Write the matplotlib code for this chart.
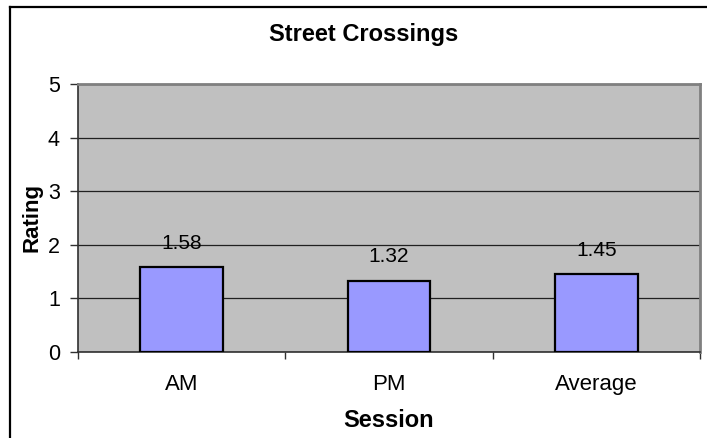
import matplotlib
matplotlib.use("Agg")
import matplotlib.pyplot as plt
from matplotlib.lines import Line2D
import numpy as np

plt.rcParams['font.family'] = ['Liberation Sans', 'DejaVu Sans']

# Data
sessions = ["AM", "PM", "Average"]
ratings = [1.58, 1.32, 1.45]
y_ticks = [0, 1, 2, 3, 4, 5]

W, H = 707, 438
fig = plt.figure(figsize=(W / 100, H / 100), dpi=100)
fig.patch.set_facecolor("white")

# plot area in pixel coordinates
left, right, top, bottom = 78, 700, 84, 352
ax = fig.add_axes([left / W, 1 - bottom / H, (right - left) / W, (bottom - top) / H])
ax.set_facecolor("#C0C0C0")

x = np.arange(len(sessions))
ax.bar(x, ratings, width=0.4, color="#9999FF", edgecolor="black", linewidth=1.6, zorder=3)

for xi, v in zip(x, ratings):
    ax.annotate(f"{v:.2f}", (xi, v), xytext=(0, 13.5), textcoords="offset points",
                ha="center", va="baseline", fontsize=15, zorder=4)

ax.set_xlim(-0.5, len(sessions) - 0.5)
ax.set_ylim(0, 5)
ax.set_yticks(y_ticks)
ax.grid(axis="y", color="#202020", linewidth=0.9, zorder=1)
ax.set_axisbelow(True)

# category labels centred, tick marks at category boundaries
ax.set_xticks(x)
ax.set_xticklabels(sessions, fontsize=16)
ax.tick_params(axis="x", which="major", length=0, pad=16)
ax.set_xticks(np.arange(len(sessions) + 1) - 0.5, minor=True)
ax.tick_params(axis="x", which="minor", length=5, width=1.0, color="#303030")
ax.tick_params(axis="y", which="major", length=6, width=1.0, color="#303030",
               labelsize=15.5, pad=7)

for side in ("top", "right"):
    ax.spines[side].set_color("#808080")
    ax.spines[side].set_linewidth(2.0)
for side in ("left", "bottom"):
    ax.spines[side].set_color("#303030")
    ax.spines[side].set_linewidth(1.2)

ax.set_xlabel("Session", fontsize=17, fontweight="bold", labelpad=10)
ax.set_ylabel("Rating", fontsize=16, fontweight="bold", labelpad=4)

fig.text(364 / W, 1 - 35 / H, "Street Crossings", ha="center", va="center",
         fontsize=17, fontweight="bold")

# chart border (left and top edges)
fig.add_artist(Line2D([10 / W, 10 / W], [1 - 7 / H, 0], transform=fig.transFigure,
                      color="black", linewidth=1.6))
fig.add_artist(Line2D([10 / W, 1], [1 - 7 / H, 1 - 7 / H], transform=fig.transFigure,
                      color="black", linewidth=1.6))

fig.savefig("out.png", dpi=100, facecolor="white")
